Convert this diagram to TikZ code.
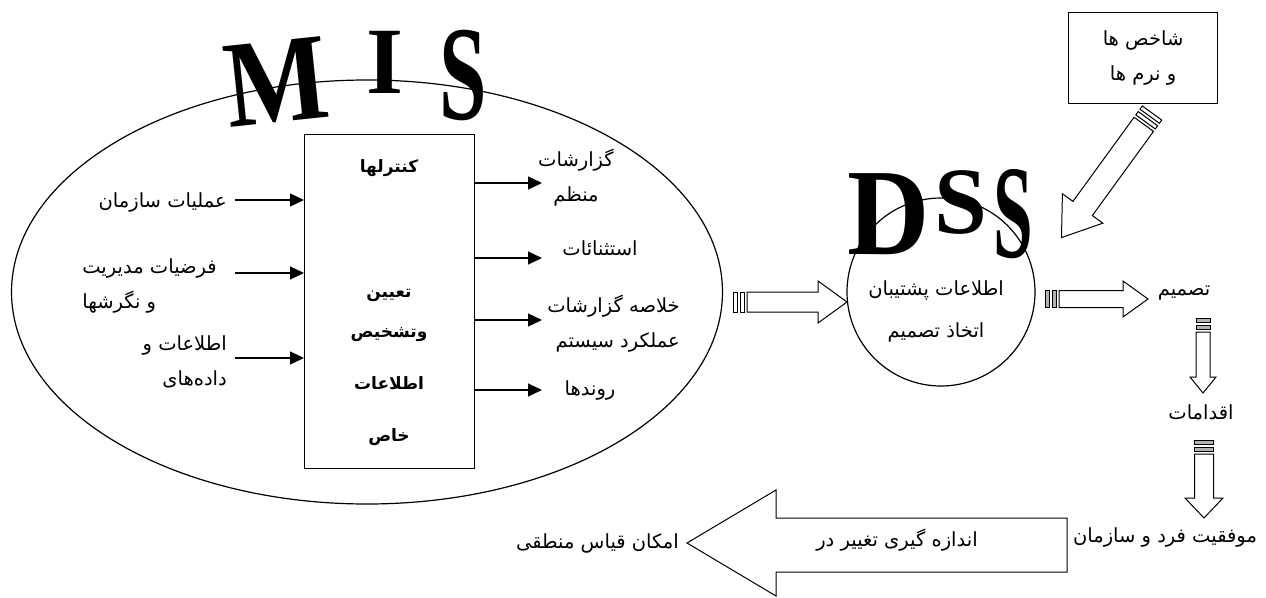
\documentclass[tikz,border=0pt]{standalone}
\usepackage{fontspec}
\usepackage{graphicx}
\usetikzlibrary{arrows.meta,shapes.geometric}
\TeXXeTstate=1
\newfontfamily\arabicfont[Script=Arabic]{DejaVu Sans}
\newfontfamily\wordartfont{Liberation Serif}
\newcommand{\pFa}[1]{\beginR #1\endR}
\newcommand{\pBig}[3]{\scalebox{#1}[#2]{#3}}
\newcommand{\pFatArrow}[7][white]{%
  \begin{scope}[shift={(#2)},rotate=#3]
    \draw[fatline,fill=#1] (0,-#5) rectangle (4,#5) (7,-#5) rectangle (11,#5);
    \draw[fatline,fill=white] (14,-#5) -- ({#4-#7},-#5) -- ({#4-#7},-#6) -- (#4,0) -- ({#4-#7},#6) -- ({#4-#7},#5) -- (14,#5) -- cycle;
  \end{scope}}

\tikzset{
  lbl/.style={inner sep=0pt, font=\arabicfont\fontsize{19.5}{35}\selectfont},
  boxlbl/.style={inner sep=0pt, font=\arabicfont\bfseries\fontsize{17}{20}\selectfont},
  big/.style={inner sep=0pt, font=\wordartfont\bfseries\fontsize{95}{95}\selectfont},
  inarrow/.style={line width=1.2pt, -{Triangle[length=14pt,width=13pt]}},
  fatline/.style={line width=1pt}
}

\begin{document}
\begin{tikzpicture}[x=1pt,y=-1pt]
\useasboundingbox (0,0) rectangle (1266,597);
\node[draw, line width=1.2pt, ellipse, minimum width=711, minimum height=424, inner sep=0pt] (mis) at (367,292) {};
\node[draw, line width=1.2pt, circle, minimum size=188, inner sep=0pt] (dss) at (941,292) {};
\node[draw, line width=1.2pt, minimum width=170, minimum height=334, anchor=north west, inner sep=0pt] (box) at (304,134) {};
\node[draw, line width=1.2pt, minimum width=149, minimum height=91, anchor=north west, inner sep=0pt] (norms) at (1068,12) {};

\node[big, rotate=6] (misM) at (277,82) {\pBig{1.15}{1.3}{M}};
\node[big] (misI) at (385,62) {I};
\node[big] (misS) at (463,75) {\pBig{0.9}{1.42}{S}};
\node[big] (dssD) at (889,214) {\pBig{1.2}{1.3}{D}};
\node[big] (dssS1) at (961,203) {S};
\node[big] (dssS2) at (1013,214) {\pBig{0.75}{1.4}{S}};

\node[boxlbl] (ctrl) at (389,168) {\pFa{کنترلها}};
\node[boxlbl] (spec1) at (389,295) {\pFa{تعیین}};
\node[boxlbl] (spec2) at (389,335) {\pFa{وتشخیص}};
\node[boxlbl] (spec3) at (389,383) {\pFa{اطلاعات}};
\node[boxlbl] (spec4) at (389,437) {\pFa{خاص}};

\node[lbl, anchor=east] (ops) at (227,202) {\pFa{عملیات سازمان}};
\node[lbl, anchor=east, align=left] (assum) at (217,286) {\pFa{فرضیات مدیریت}\\\pFa{و نگرشها}};
\node[lbl, anchor=east, align=right] (data) at (227,362) {\pFa{اطلاعات و}\\\pFa{داده‌های}};
\coordinate (in1) at (235,200);
\coordinate (in2) at (235,273);
\coordinate (in3) at (235,358);
\draw[inarrow] (in1) -- (in1 -| box.west);
\draw[inarrow] (in2) -- (in2 -| box.west);
\draw[inarrow] (in3) -- (in3 -| box.west);

\coordinate (out1) at (542,183);
\coordinate (out2) at (542,258);
\coordinate (out3) at (542,320);
\coordinate (out4) at (542,390);
\draw[inarrow] (out1 -| box.east) -- (out1);
\draw[inarrow] (out2 -| box.east) -- (out2);
\draw[inarrow] (out3 -| box.east) -- (out3);
\draw[inarrow] (out4 -| box.east) -- (out4);
\node[lbl, align=center] (rep) at (576,178) {\pFa{گزارشات}\\\pFa{منظم}};
\node[lbl] (exc) at (600,248) {\pFa{استثنائات}};
\node[lbl, anchor=east, align=right] (sum) at (680,324) {\pFa{خلاصه گزارشات}\\\pFa{عملکرد سیستم}};
\node[lbl] (trend) at (590,390) {\pFa{روندها}};

\node[lbl] (dsstext1) at (936,290) {\pFa{اطلاعات پشتیبان}};
\node[lbl] (dsstext2) at (936,332) {\pFa{اتخاذ تصمیم}};
\node[lbl, align=center] (normtext) at (norms.center) {\pFa{شاخص ها}\\\pFa{و نرم ها}};
\node[lbl] (decision) at (1184,293) {\pFa{تصمیم}};
\node[lbl] (actions) at (1201,412) {\pFa{اقدامات}};
\node[lbl] (success) at (1165,537) {\pFa{موفقیت فرد و سازمان}};
\node[lbl, anchor=east] (logic) at (679,543) {\pFa{امکان قیاس منطقی}};

\pFatArrow{733,302}{0}{114}{10}{21}{29}
\pFatArrow[gray!60]{1045,299}{0}{103}{8.5}{18}{25}
\pFatArrow[gray!60]{1203,318}{-90}{75}{7}{13}{16}
\pFatArrow[gray!60]{1204,440}{-90}{78}{9.5}{19}{20}
\pFatArrow{1152,113}{-126}{154}{12}{25}{36}
\draw[fatline, fill=white] (1067,518) -- (776,518) -- (776,490) -- (687,543) -- (776,596) -- (776,572) -- (1067,572) -- cycle;
\node[lbl] (measure) at (897,540) {\pFa{اندازه گیری تغییر در}};
\end{tikzpicture}
\end{document}
